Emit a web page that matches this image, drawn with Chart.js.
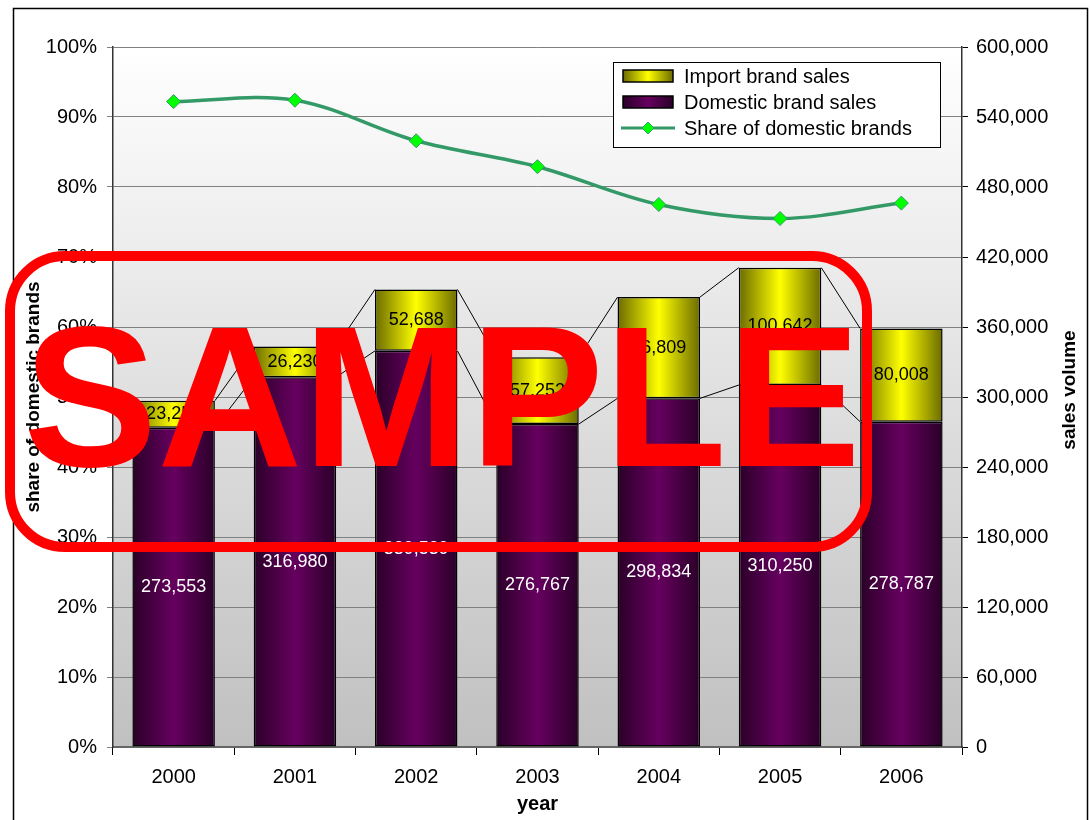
<!DOCTYPE html>
<html>
<head>
<meta charset="utf-8">
<script src="https://cdn.jsdelivr.net/npm/chart.js@4/dist/chart.umd.min.js"></script>
<style>
  body { margin: 0; background: #fff; }
  canvas { display: block; }
</style>
</head>
<body>
<canvas id="salesChart" width="1090" height="820"></canvas>
<script>
const years = ["2000", "2001", "2002", "2003", "2004", "2005", "2006"];
const domesticSales = [273553, 316980, 339539, 276767, 298834, 310250, 278787];
const importSales = [23250, 26230, 52688, 57252, 86809, 100642, 80008];
const domesticShare = [92.2, 92.4, 86.6, 82.9, 77.5, 75.5, 77.7];
const shareTicks = [0, 10, 20, 30, 40, 50, 60, 70, 80, 90, 100];
const volumeTicks = [0, 60000, 120000, 180000, 240000, 300000, 360000, 420000, 480000, 540000, 600000];

const FONT = "'Liberation Sans', Arial, sans-serif";
const BAR_PCT = 0.68;

function barGradient(edge, mid) {
    return function (ctx) {
        const chart = ctx.chart;
        const x = chart.scales.x;
        if (!x || ctx.type !== 'data') return mid;
        const cx = x.getPixelForValue(ctx.dataIndex);
        const w = (x.width / years.length) * BAR_PCT;
        if (!isFinite(cx) || !isFinite(w) || w <= 0) return mid;
        const g = chart.ctx.createLinearGradient(cx - w / 2, 0, cx + w / 2, 0);
        g.addColorStop(0, edge);
        g.addColorStop(0.5, mid);
        g.addColorStop(1, edge);
        return g;
    };
}

// plot background, series lines, labels, legend, watermark
const decor = {
    id: 'decor',
    beforeDatasetsDraw(chart) {
        const { ctx } = chart;
        ctx.save();
        // series lines between bars
        ctx.strokeStyle = '#000';
        ctx.lineWidth = 1;
        [0, 1].forEach(di => {
            const els = chart.getDatasetMeta(di).data;
            for (let i = 0; i < els.length - 1; i++) {
                const p = els[i], q = els[i + 1];
                ctx.beginPath();
                ctx.moveTo(p.x + p.width / 2, p.y);
                ctx.lineTo(q.x - q.width / 2, q.y);
                ctx.stroke();
            }
        });
        ctx.restore();
    },
    beforeDraw(chart) {
        const { ctx, chartArea: a } = chart;
        ctx.save();
        const g = ctx.createLinearGradient(0, a.top, 0, a.bottom);
        g.addColorStop(0, '#ffffff');
        g.addColorStop(1, '#c0c0c0');
        ctx.fillStyle = g;
        ctx.fillRect(a.left, a.top, a.right - a.left, a.bottom - a.top);
        ctx.restore();
    },
    afterDatasetsDraw(chart) {
        const { ctx } = chart;
        ctx.save();
        ctx.font = '18px ' + FONT;
        ctx.textAlign = 'center';
        ctx.textBaseline = 'middle';
        [[0, '#ffffff'], [1, '#000000']].forEach(([di, col]) => {
            const ds = chart.data.datasets[di];
            chart.getDatasetMeta(di).data.forEach((el, i) => {
                ctx.fillStyle = col;
                ctx.fillText(ds.data[i].toLocaleString('en-US'), el.x, (el.y + el.base) / 2);
            });
        });
        ctx.restore();
    },
    afterDraw(chart) {
        const { ctx } = chart;
        ctx.save();
        // outer border
        ctx.strokeStyle = '#000';
        ctx.lineWidth = 1.5;
        ctx.strokeRect(13.5, 8.5, 1074, 830);

        // right axis title (rotated up like the left one)
        ctx.font = 'bold 19px ' + FONT;
        ctx.fillStyle = '#000';
        ctx.textAlign = 'center';
        ctx.textBaseline = 'middle';
        ctx.translate(1070, 390);
        ctx.rotate(-Math.PI / 2);
        ctx.fillText('sales volume', 0, 0);
        ctx.setTransform(1, 0, 0, 1, 0, 0);

        // legend
        const lx = 613, ly = 62, lw = 327, lh = 85;
        ctx.fillStyle = '#fff';
        ctx.fillRect(lx, ly, lw, lh);
        ctx.strokeStyle = '#000';
        ctx.lineWidth = 1;
        ctx.strokeRect(lx + 0.5, ly + 0.5, lw, lh);
        const ds = chart.data.datasets;
        const rows = [
            { d: ds[1], edge: '#6b6b00', mid: '#ffff00' },
            { d: ds[0], edge: '#2a0028', mid: '#66005f' },
            { d: ds[2] }
        ];
        ctx.font = '20px ' + FONT;
        ctx.textAlign = 'left';
        rows.forEach((r, i) => {
            const cy = ly + 14 + i * 26;
            if (r.edge) {
                const g = ctx.createLinearGradient(lx + 10, 0, lx + 60, 0);
                g.addColorStop(0, r.edge);
                g.addColorStop(0.5, r.mid);
                g.addColorStop(1, r.edge);
                ctx.fillStyle = g;
                ctx.fillRect(lx + 10, cy - 6, 50, 12);
                ctx.strokeStyle = '#000';
                ctx.lineWidth = 1.5;
                ctx.strokeRect(lx + 10, cy - 6, 50, 12);
            } else {
                ctx.strokeStyle = r.d.borderColor;
                ctx.lineWidth = 3;
                ctx.beginPath();
                ctx.moveTo(lx + 8, cy);
                ctx.lineTo(lx + 62, cy);
                ctx.stroke();
                ctx.fillStyle = r.d.pointBackgroundColor;
                ctx.lineWidth = 1;
                ctx.beginPath();
                ctx.moveTo(lx + 35, cy - 6);
                ctx.lineTo(lx + 41, cy);
                ctx.lineTo(lx + 35, cy + 6);
                ctx.lineTo(lx + 29, cy);
                ctx.closePath();
                ctx.fill();
                ctx.stroke();
            }
            ctx.fillStyle = '#000';
            ctx.fillText(r.d.label, lx + 71, cy + 1);
        });

        // SAMPLE watermark
        ctx.strokeStyle = '#ff0000';
        ctx.lineWidth = 10;
        ctx.beginPath();
        ctx.roundRect(10, 256, 857, 291, 55);
        ctx.stroke();
        ctx.fillStyle = '#ff0000';
        ctx.font = 'bold 201px ' + FONT;
        ctx.textAlign = 'center';
        ctx.textBaseline = 'alphabetic';
        ctx.fillText('SAMPLE', 442, 466);
        ctx.restore();
    }
};

new Chart(document.getElementById('salesChart'), {
    data: {
        labels: years,
        datasets: [{
            type: 'bar',
            label: 'Domestic brand sales',
            data: domesticSales,
            yAxisID: 'y1',
            backgroundColor: barGradient('#2a0028', '#66005f'),
            borderColor: '#000',
            borderWidth: 1.5,
            borderSkipped: false,
            barPercentage: BAR_PCT,
            categoryPercentage: 1,
            order: 2
        }, {
            type: 'bar',
            label: 'Import brand sales',
            data: importSales,
            yAxisID: 'y1',
            backgroundColor: barGradient('#6b6b00', '#ffff00'),
            borderColor: '#000',
            borderWidth: 1.5,
            borderSkipped: false,
            barPercentage: BAR_PCT,
            categoryPercentage: 1,
            order: 2
        }, {
            type: 'line',
            label: 'Share of domestic brands',
            data: domesticShare,
            yAxisID: 'y',
            borderColor: '#339966',
            borderWidth: 3.5,
            tension: 0.35,
            pointStyle: 'rectRot',
            pointRadius: 7,
            pointBackgroundColor: '#00ff00',
            pointBorderColor: '#339966',
            pointBorderWidth: 1,
            order: 1
        }]
    },
    options: {
        responsive: false,
        animation: false,
        layout: { padding: { top: 47, left: 0, right: 0, bottom: 0 } },
        plugins: {
            legend: { display: false },
            tooltip: { enabled: false }
        },
        scales: {
            x: {
                stacked: true,
                offset: true,
                afterFit: s => { s.height = 73; },
                grid: { drawOnChartArea: false, tickLength: 8, color: '#000' },
                border: { color: '#666', width: 2 },
                ticks: { color: '#000', font: { family: FONT, size: 20 }, padding: 10 },
                title: { display: true, text: 'year', color: '#000', font: { family: FONT, size: 20, weight: 'bold' }, padding: { top: 0 } }
            },
            y: {
                position: 'left',
                min: 0,
                max: 100,
                afterFit: s => { s.width = 113; },
                afterBuildTicks: s => { s.ticks = shareTicks.map(v => ({ value: v })); },
                grid: { color: '#808080', tickLength: 6 },
                border: { color: '#333', width: 1.5 },
                ticks: { color: '#000', font: { family: FONT, size: 20 }, padding: 10, callback: v => v + '%' },
                title: { display: true, text: 'share of domestic brands', color: '#000', font: { family: FONT, size: 19, weight: 'bold' }, padding: { top: 22 } }
            },
            y1: {
                position: 'right',
                stacked: true,
                min: 0,
                max: 600000,
                afterFit: s => { s.width = 128; },
                afterBuildTicks: s => { s.ticks = volumeTicks.map(v => ({ value: v })); },
                grid: { drawOnChartArea: false, tickLength: 6, color: '#000' },
                border: { color: '#333', width: 1.5 },
                ticks: { color: '#000', font: { family: FONT, size: 20 }, padding: 8, callback: v => v.toLocaleString('en-US') }
            }
        }
    },
    plugins: [decor]
});
</script>
</body>
</html>
